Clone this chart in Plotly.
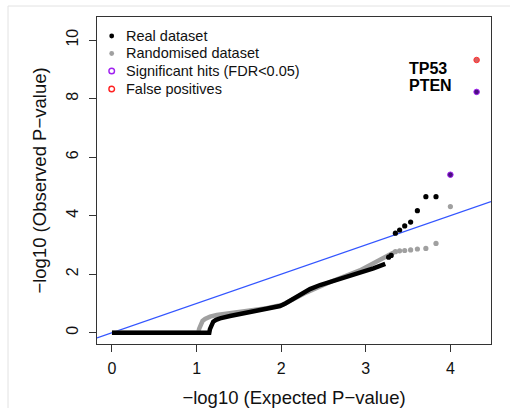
import plotly.graph_objects as go

# ---- data ----
# dense part of the real-data QQ curve (expected, observed)
real_curve_x = [0.0, 1.15, 1.158, 1.175, 1.197, 1.23, 1.277, 1.395, 1.552, 1.71, 1.80, 1.90, 1.986, 2.05, 2.104, 2.22, 2.34, 2.46, 2.58, 2.70, 2.81, 2.97, 3.09, 3.23]
real_curve_y = [0.0, 0.0, 0.12, 0.28, 0.376, 0.44, 0.49, 0.57, 0.66, 0.72, 0.77, 0.83, 0.91, 1.00, 1.09, 1.30, 1.49, 1.63, 1.74, 1.83, 1.91, 2.08, 2.20, 2.35]
# isolated real-data points
real_pts_x = [3.27, 3.30, 3.35, 3.40, 3.46, 3.53, 3.61, 3.71, 3.83]
real_pts_y = [2.58, 2.64, 3.40, 3.51, 3.65, 3.78, 4.17, 4.65, 4.65]

# randomised dataset curve
rand_curve_x = [0.0, 1.02, 1.03, 1.045, 1.07, 1.10, 1.16, 1.24, 1.51, 1.83, 2.02, 2.30, 2.60, 2.93, 3.13, 3.29, 3.33]
rand_curve_y = [0.0, 0.0, 0.13, 0.27, 0.40, 0.47, 0.55, 0.61, 0.72, 0.84, 0.96, 1.38, 1.76, 2.13, 2.43, 2.65, 2.74]
rand_pts_x = [3.35, 3.40, 3.46, 3.53, 3.61, 3.71, 3.83, 4.00]
rand_pts_y = [2.77, 2.80, 2.81, 2.83, 2.86, 2.88, 3.05, 4.31]

# significant hits (real data, FDR<0.05)
sig_x = [4.00, 4.31]
sig_y = [5.40, 8.23]
# false positives (randomised data)
fp_x = [4.31]
fp_y = [9.32]

gene_labels = ["TP53", "PTEN"]
gene_label_x = [3.487, 3.487]
gene_label_y = [9.04, 8.44]

legend_labels = ["Real dataset", "Randomised dataset", "Significant hits (FDR<0.05)", "False positives"]

x_range = [-0.177, 4.48]
y_range = [-0.386, 10.79]
x_ticks = [0, 1, 2, 3, 4]
y_ticks = [0, 2, 4, 6, 8, 10]

FONT = "Liberation Sans, Arial, Helvetica, sans-serif"
W, H = 510, 408
ML, MR, MT, MB = 97, 19, 17, 64

fig = go.Figure()

# identity line y = x
fig.add_trace(go.Scatter(x=x_range, y=x_range, mode="lines",
                         line=dict(color="#3355ff", width=1.3), hoverinfo="skip"))

# randomised curve
fig.add_trace(go.Scatter(x=rand_curve_x, y=rand_curve_y, mode="lines",
                         line=dict(color="#a0a0a0", width=4.5)))
fig.add_trace(go.Scatter(x=rand_pts_x, y=rand_pts_y, mode="markers",
                         marker=dict(color="#a0a0a0", size=5.2, line=dict(width=0))))
# real curve
fig.add_trace(go.Scatter(x=real_curve_x, y=real_curve_y, mode="lines",
                         line=dict(color="#000000", width=4.5)))
fig.add_trace(go.Scatter(x=real_pts_x, y=real_pts_y, mode="markers",
                         marker=dict(color="#000000", size=5.2, line=dict(width=0))))
# significant hits and false positives
fig.add_trace(go.Scatter(x=sig_x, y=sig_y, mode="markers",
                         marker=dict(color="#4a1080", size=5.5, line=dict(color="#a020f0", width=1.0))))
fig.add_trace(go.Scatter(x=fp_x, y=fp_y, mode="markers",
                         marker=dict(color="#d86060", size=5.5, line=dict(color="#ff3030", width=1.0))))

# gene labels
for t, gx, gy in zip(gene_labels, gene_label_x, gene_label_y):
    fig.add_annotation(x=gx, y=gy, xref="x", yref="y", text="<b>%s</b>" % t, showarrow=False,
                       xanchor="left", yanchor="middle", font=dict(family=FONT, size=16, color="#000"))

# legend (drawn manually, like R's legend())
pw, ph = W - ML - MR, H - MT - MB
def px2paper(px, py):
    return (px - ML) / pw, (H - MB - py) / ph

leg_rows = [36, 53.5, 71, 89]
sym_x = 111.7
for i, (lab, ry) in enumerate(zip(legend_labels, leg_rows)):
    tx, ty = px2paper(124, ry)
    fig.add_annotation(x=tx, y=ty, xref="paper", yref="paper", text=lab, showarrow=False,
                       xanchor="left", yanchor="middle", font=dict(family=FONT, size=14.5, color="#111"))
    r = 2.4 if i < 2 else 2.8
    x0, y0 = px2paper(sym_x - r, ry + r)
    x1, y1 = px2paper(sym_x + r, ry - r)
    if i == 0:
        fig.add_shape(type="circle", xref="paper", yref="paper", x0=x0, y0=y0, x1=x1, y1=y1,
                      fillcolor="#000", line=dict(width=0))
    elif i == 1:
        fig.add_shape(type="circle", xref="paper", yref="paper", x0=x0, y0=y0, x1=x1, y1=y1,
                      fillcolor="#a0a0a0", line=dict(width=0))
    else:
        col = "#a020f0" if i == 2 else "#ff2020"
        fig.add_shape(type="circle", xref="paper", yref="paper", x0=x0, y0=y0, x1=x1, y1=y1,
                      fillcolor="rgba(0,0,0,0)", line=dict(color=col, width=1.4))

# faint outer frame of the screenshot
fx0, fy0 = px2paper(8, 6)
fx1, fy1 = px2paper(530, 430)
fig.add_shape(type="rect", xref="paper", yref="paper", x0=fx0, y0=fy1, x1=fx1, y1=fy0,
              line=dict(color="#e2e2e2", width=1), fillcolor="rgba(0,0,0,0)", layer="below")

axis_common = dict(showgrid=False, zeroline=False, showline=True, mirror=True,
                   linecolor="#333", linewidth=1, ticks="outside", ticklen=7,
                   tickcolor="#333", tickwidth=1, automargin=False,
                   tickfont=dict(family=FONT, size=16, color="#111"))

fig.update_layout(
    width=W, height=H, margin=dict(l=ML, r=MR, t=MT, b=MB),
    paper_bgcolor="white", plot_bgcolor="white", showlegend=False,
    xaxis=dict(range=x_range, tickvals=x_ticks, ticktext=[str(v) for v in x_ticks],
               ticklabelstandoff=3,
               title=dict(text="\u2212log10 (Expected P\u2212value)", standoff=15,
                          font=dict(family=FONT, size=18.5, color="#111")),
               **axis_common),
    yaxis=dict(range=y_range, tickvals=y_ticks, ticktext=[str(v) for v in y_ticks], tickangle=-90,
               ticklabelstandoff=5,
               title=dict(text="\u2212log10 (Observed P\u2212value)", standoff=12,
                          font=dict(family=FONT, size=18.5, color="#111")),
               **axis_common),
)

fig.write_html("out.html")
